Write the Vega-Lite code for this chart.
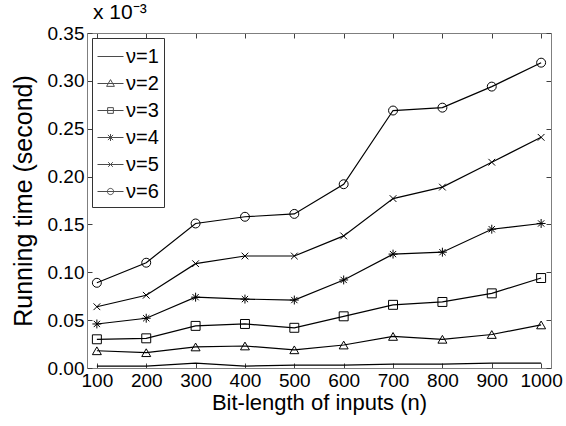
{
  "$schema": "https://vega.github.io/schema/vega-lite/v6.json",
  "autosize": {"type": "none"},
  "width": 464,
  "height": 335,
  "padding": {"left": 87, "top": 33, "right": 15, "bottom": 58},
  "background": "white",
  "title": {"text": "x 10⁻³", "anchor": "start", "frame": "group", "fontSize": 21, "fontWeight": "normal", "font": "Liberation Sans", "color": "black", "offset": 1, "dx": 6},
  "config": {
    "view": {"stroke": null},
    "font": "Liberation Sans",
    "axis": {"grid": false, "domainColor": "#7f7f7f", "tickColor": "#404040", "labelFont": "Liberation Sans", "labelFontSize": 19, "labelColor": "black", "titleFont": "Liberation Sans", "titleFontSize": 22, "titleFontWeight": "normal", "titleColor": "black"},
    "legend": {"labelFont": "Liberation Sans", "labelFontSize": 20, "labelColor": "black"}
  },
  "data": {"values": [
    {"n": 100, "v": "ν=1", "t": 0.002}, {"n": 200, "v": "ν=1", "t": 0.002}, {"n": 300, "v": "ν=1", "t": 0.005}, {"n": 400, "v": "ν=1", "t": 0.002}, {"n": 500, "v": "ν=1", "t": 0.003},
    {"n": 600, "v": "ν=1", "t": 0.003}, {"n": 700, "v": "ν=1", "t": 0.004}, {"n": 800, "v": "ν=1", "t": 0.004}, {"n": 900, "v": "ν=1", "t": 0.005}, {"n": 1000, "v": "ν=1", "t": 0.005},
    {"n": 100, "v": "ν=2", "t": 0.018}, {"n": 200, "v": "ν=2", "t": 0.016}, {"n": 300, "v": "ν=2", "t": 0.022}, {"n": 400, "v": "ν=2", "t": 0.023}, {"n": 500, "v": "ν=2", "t": 0.019},
    {"n": 600, "v": "ν=2", "t": 0.024}, {"n": 700, "v": "ν=2", "t": 0.033}, {"n": 800, "v": "ν=2", "t": 0.030}, {"n": 900, "v": "ν=2", "t": 0.035}, {"n": 1000, "v": "ν=2", "t": 0.045},
    {"n": 100, "v": "ν=3", "t": 0.030}, {"n": 200, "v": "ν=3", "t": 0.031}, {"n": 300, "v": "ν=3", "t": 0.044}, {"n": 400, "v": "ν=3", "t": 0.046}, {"n": 500, "v": "ν=3", "t": 0.042},
    {"n": 600, "v": "ν=3", "t": 0.054}, {"n": 700, "v": "ν=3", "t": 0.066}, {"n": 800, "v": "ν=3", "t": 0.069}, {"n": 900, "v": "ν=3", "t": 0.078}, {"n": 1000, "v": "ν=3", "t": 0.094},
    {"n": 100, "v": "ν=4", "t": 0.046}, {"n": 200, "v": "ν=4", "t": 0.052}, {"n": 300, "v": "ν=4", "t": 0.074}, {"n": 400, "v": "ν=4", "t": 0.072}, {"n": 500, "v": "ν=4", "t": 0.071},
    {"n": 600, "v": "ν=4", "t": 0.092}, {"n": 700, "v": "ν=4", "t": 0.119}, {"n": 800, "v": "ν=4", "t": 0.121}, {"n": 900, "v": "ν=4", "t": 0.145}, {"n": 1000, "v": "ν=4", "t": 0.151},
    {"n": 100, "v": "ν=5", "t": 0.064}, {"n": 200, "v": "ν=5", "t": 0.076}, {"n": 300, "v": "ν=5", "t": 0.109}, {"n": 400, "v": "ν=5", "t": 0.117}, {"n": 500, "v": "ν=5", "t": 0.117},
    {"n": 600, "v": "ν=5", "t": 0.138}, {"n": 700, "v": "ν=5", "t": 0.177}, {"n": 800, "v": "ν=5", "t": 0.189}, {"n": 900, "v": "ν=5", "t": 0.215}, {"n": 1000, "v": "ν=5", "t": 0.241},
    {"n": 100, "v": "ν=6", "t": 0.089}, {"n": 200, "v": "ν=6", "t": 0.110}, {"n": 300, "v": "ν=6", "t": 0.151}, {"n": 400, "v": "ν=6", "t": 0.158}, {"n": 500, "v": "ν=6", "t": 0.161},
    {"n": 600, "v": "ν=6", "t": 0.192}, {"n": 700, "v": "ν=6", "t": 0.269}, {"n": 800, "v": "ν=6", "t": 0.272}, {"n": 900, "v": "ν=6", "t": 0.294}, {"n": 1000, "v": "ν=6", "t": 0.319}
  ]},
  "resolve": {"axis": {"x": "independent", "y": "independent"}, "scale": {"shape": "independent"}},
  "layer": [
    {
      "mark": {"type": "line", "color": "black", "strokeWidth": 1.2},
      "encoding": {
        "x": {"field": "n", "type": "quantitative", "scale": {"domain": [80, 1020], "nice": false, "zero": false},
              "axis": {"orient": "bottom", "values": [100, 200, 300, 400, 500, 600, 700, 800, 900, 1000], "format": "d", "title": "Bit-length of inputs (n)", "tickSize": -5, "labelPadding": 8, "titlePadding": 2}},
        "y": {"field": "t", "type": "quantitative", "scale": {"domain": [0, 0.35], "nice": false, "zero": true},
              "axis": {"orient": "left", "values": [0, 0.05, 0.1, 0.15, 0.2, 0.25, 0.3, 0.35], "format": ".2f", "title": "Running time (second)", "titleFontSize": 25, "tickSize": -5, "labelPadding": 8, "titlePadding": 11}},
        "detail": {"field": "v", "type": "nominal"}
      }
    },
    {
      "mark": {"type": "point", "filled": false, "size": 80, "strokeWidth": 1, "color": "black", "opacity": 1},
      "encoding": {
        "x": {"field": "n", "type": "quantitative",
              "axis": {"orient": "top", "labels": false, "title": null, "values": [100, 200, 300, 400, 500, 600, 700, 800, 900, 1000], "tickSize": -5}},
        "y": {"field": "t", "type": "quantitative",
              "axis": {"orient": "right", "labels": false, "title": null, "values": [0, 0.05, 0.1, 0.15, 0.2, 0.25, 0.3, 0.35], "tickSize": -5}},
        "shape": {"field": "v", "type": "nominal", "legend": null,
                  "scale": {"domain": ["ν=1", "ν=2", "ν=3", "ν=4", "ν=5", "ν=6"],
                            "range": ["M0,0", "triangle-up", "square", "M-1,0H1M0,-1V1M-0.7,-0.7L0.7,0.7M-0.7,0.7L0.7,-0.7", "M-0.75,-0.75L0.75,0.75M-0.75,0.75L0.75,-0.75", "circle"]}}
      }
    },
    {
      "transform": [{"filter": "false"}],
      "mark": {"type": "point", "filled": false, "strokeWidth": 1, "color": "black"},
      "encoding": {
        "x": {"field": "n", "type": "quantitative", "axis": null},
        "y": {"field": "t", "type": "quantitative", "axis": null},
        "shape": {"field": "v", "type": "nominal",
                  "scale": {"domain": ["ν=1", "ν=2", "ν=3", "ν=4", "ν=5", "ν=6"],
                            "range": ["M-1,0H1", "M-1,0H1M0,-0.3L0.3,0.22L-0.3,0.22Z", "M-1,0H1M-0.22,-0.22H0.22V0.22H-0.22Z", "M-1,0H1M0,-0.27V0.27M-0.2,-0.2L0.2,0.2M-0.2,0.2L0.2,-0.2", "M-1,0H1M-0.18,-0.18L0.18,0.18M-0.18,0.18L0.18,-0.18", "M-1,0H1M0.24,0A0.24,0.24 0 1 1 -0.24,0A0.24,0.24 0 1 1 0.24,0"]},
                  "legend": {"title": null, "orient": "top-left", "offset": 5, "padding": 5, "strokeColor": "#333333", "fillColor": "white",
                             "symbolSize": 676, "rowPadding": 3, "labelOffset": 2, "symbolStrokeColor": "black", "symbolStrokeWidth": 1, "symbolFillColor": "transparent"}}
      }
    }
  ]
}
